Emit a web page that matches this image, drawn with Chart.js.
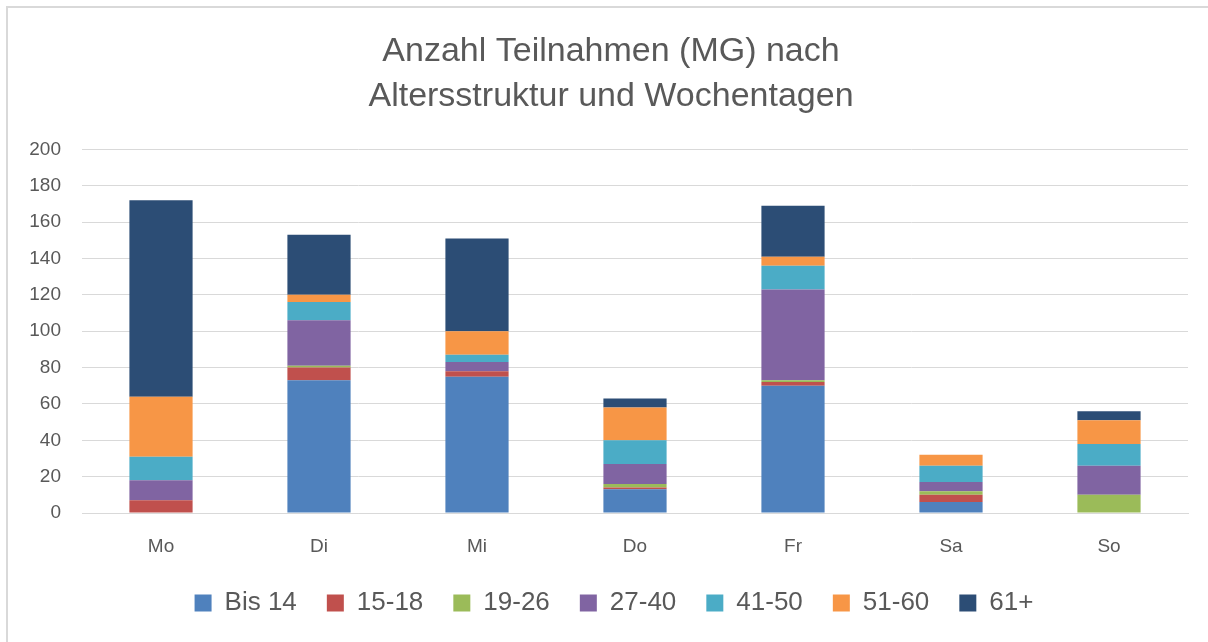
<!DOCTYPE html>
<html>
<head>
<meta charset="utf-8">
<script src="https://cdn.jsdelivr.net/npm/chart.js@4/dist/chart.umd.min.js"></script>
<style>
html,body{margin:0;padding:0;background:#fff;}
#wrap{position:relative;width:1208px;height:642px;}
canvas{display:block;}
</style>
</head>
<body>
<div id="wrap"><canvas id="c" width="1208" height="642"></canvas></div>
<script>
const categories = ["Mo", "Di", "Mi", "Do", "Fr", "Sa", "So"];
const seriesNames = ["Bis 14", "15-18", "19-26", "27-40", "41-50", "51-60", "61+"];
const bis14  = [0, 73, 75, 13, 70, 6, 0];
const s15_18 = [7, 7, 3, 1, 2, 4, 0];
const s19_26 = [0, 1, 0, 2, 1, 2, 10];
const s27_40 = [11, 25, 5, 11, 50, 5, 16];
const s41_50 = [13, 10, 4, 13, 13, 9, 12];
const s51_60 = [33, 4, 13, 18, 5, 6, 13];
const s61    = [108, 33, 51, 5, 28, 0, 5];
const colors = ["#4f81bd", "#c0504d", "#9bbb59", "#8064a2", "#4bacc6", "#f79646", "#2c4d75"];
const titleLines = ["Anzahl Teilnahmen (MG) nach", "Altersstruktur und Wochentagen"];
const yTicks = [0, 20, 40, 60, 80, 100, 120, 140, 160, 180, 200];

const allSeries = [bis14, s15_18, s19_26, s27_40, s41_50, s51_60, s61];
const textColor = "#595959";
const fontFam = "'Liberation Sans', Arial, sans-serif";

const borderPlugin = {
  id: 'frame',
  beforeDraw(chart) {
    const ctx = chart.ctx;
    ctx.save();
    ctx.fillStyle = '#fff';
    ctx.fillRect(0, 0, chart.width, chart.height);
    ctx.strokeStyle = '#d9d9d9';
    ctx.lineWidth = 2;
    ctx.beginPath();
    ctx.moveTo(7, chart.height + 5);
    ctx.lineTo(7, 7);
    ctx.lineTo(chart.width + 5, 7);
    ctx.stroke();
    ctx.restore();
  }
};

const shiftPlugin = {
  id: 'shift',
  afterLayout(chart) {
    if (chart.legend) { chart.legend.left += 20; chart.legend.right += 20; }
    if (chart.titleBlock) { chart.titleBlock.left += 17; chart.titleBlock.right += 17; }
  }
};

new Chart(document.getElementById('c'), {
  type: 'bar',
  data: {
    labels: categories,
    datasets: seriesNames.map((n, i) => ({
      label: n,
      data: allSeries[i],
      backgroundColor: colors[i],
      borderWidth: 0,
      categoryPercentage: 1,
      barPercentage: 0.4
    }))
  },
  options: {
    responsive: false,
    animation: false,
    layout: { padding: { left: 0, right: 20, top: 0, bottom: 16 } },
    plugins: {
      title: {
        display: true,
        text: titleLines,
        color: textColor,
        font: { family: fontFam, size: 34, weight: 'normal', lineHeight: 1.3 },
        padding: { top: 30, bottom: 31 }
      },
      legend: {
        position: 'bottom',
        labels: {
          color: textColor,
          font: { family: fontFam, size: 26 },
          boxWidth: 17,
          boxHeight: 17,
          padding: 30
        }
      },
      tooltip: { enabled: false }
    },
    scales: {
      x: {
        stacked: true,
        grid: { display: false, drawTicks: false },
        border: { display: true, color: '#d9d9d9', width: 1 },
        ticks: { color: textColor, font: { family: fontFam, size: 19 }, padding: 22 },
        afterFit(scale) { scale.height = 47; }
      },
      y: {
        stacked: true,
        min: 0,
        max: 200,
        afterBuildTicks(scale) { scale.ticks = yTicks.map(v => ({ value: v })); },
        grid: { color: '#d9d9d9', drawTicks: false },
        border: { display: false },
        ticks: { color: textColor, font: { family: fontFam, size: 19 }, padding: 21 },
        afterFit(scale) { scale.width = 82; }
      }
    }
  },
  plugins: [borderPlugin, shiftPlugin]
});
</script>
</body>
</html>
